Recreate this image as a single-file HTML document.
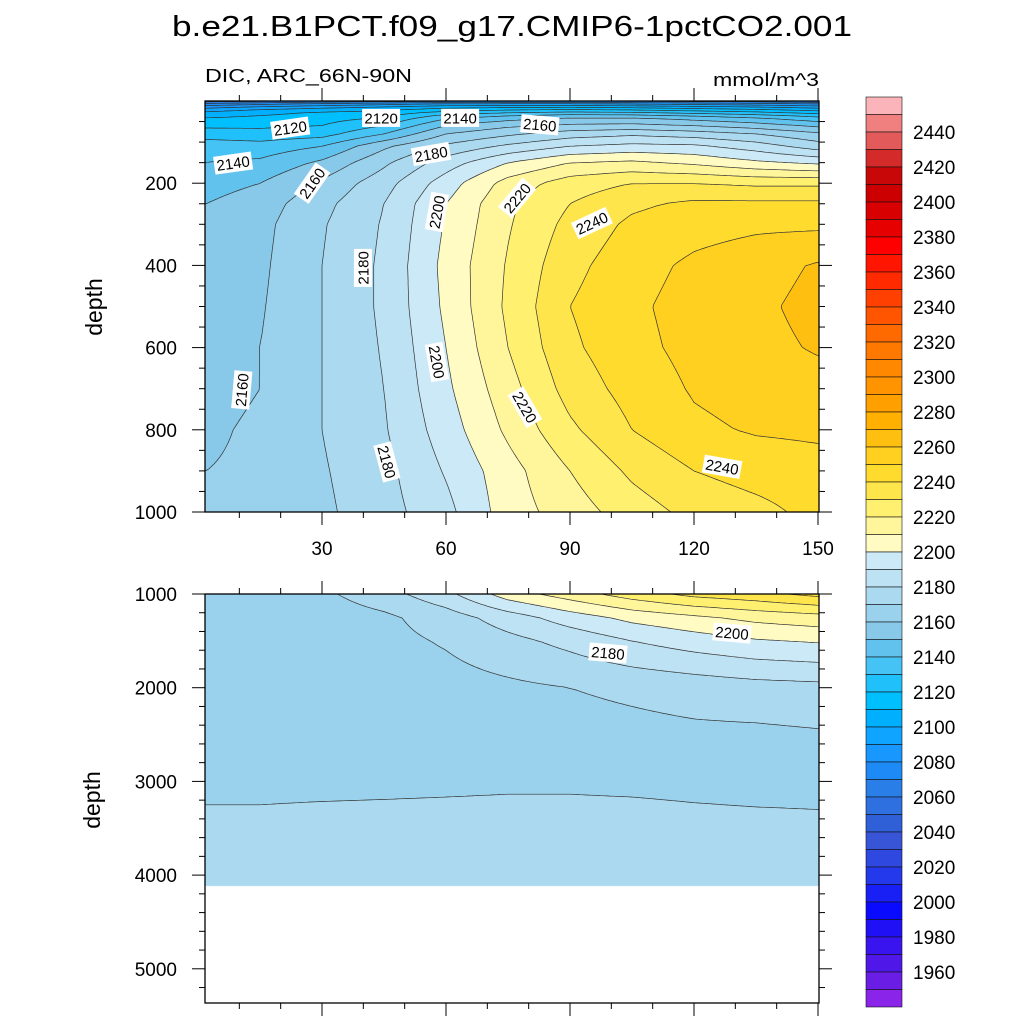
<!DOCTYPE html>
<html><head><meta charset="utf-8">
<style>
html,body{margin:0;padding:0;background:#fff;}
#wrap{position:relative;width:1024px;height:1024px;overflow:hidden;font-family:"Liberation Sans",sans-serif;}
canvas{position:absolute;}
svg{position:absolute;left:0;top:0;}
</style></head>
<body>
<div id="wrap">
<canvas id="c1" width="614" height="411" style="left:205px;top:101px"></canvas>
<canvas id="c2" width="614" height="409" style="left:205px;top:594px"></canvas>
<svg id="svg" width="1024" height="1024">
<text x="512" y="36" text-anchor="middle" font-size="29" textLength="680" lengthAdjust="spacingAndGlyphs">b.e21.B1PCT.f09_g17.CMIP6-1pctCO2.001</text>
<text x="205" y="82" font-size="18" textLength="207" lengthAdjust="spacingAndGlyphs">DIC, ARC_66N-90N</text>
<text x="819" y="86" font-size="18" text-anchor="end" textLength="106" lengthAdjust="spacingAndGlyphs">mmol/m^3</text>
<text transform="translate(102,307) rotate(-90)" font-size="23" text-anchor="middle">depth</text>
<text transform="translate(100,800) rotate(-90)" font-size="23" text-anchor="middle">depth</text>
<g id="g-lines"></g><g id="g-labels"></g><g id="g-axes"></g><g id="g-cbar"></g>
</svg>
</div>
<script>
// ---- data ----
const years = [2, 15, 30, 45, 60, 75, 90, 105, 120, 135, 150];
const depthsTop = [0, 10, 25, 40, 60, 80, 110, 150, 200, 250, 300, 400, 500, 600, 700, 800, 900, 1000];
const dicTop = [
[2055,2058,2062,2065,2068,2070,2070,2068,2066,2064,2060],
[2080,2085,2090,2095,2100,2100,2100,2098,2095,2092,2088],
[2100,2105,2110,2112,2120,2125,2128,2126,2122,2118,2112],
[2110,2112,2116,2120,2138,2145,2150,2150,2145,2140,2132],
[2118,2118,2120,2130,2150,2158,2162,2163,2160,2155,2148],
[2125,2124,2126,2140,2160,2168,2175,2178,2175,2170,2162],
[2136,2134,2140,2158,2172,2182,2190,2193,2192,2185,2175],
[2140,2142,2152,2168,2185,2200,2210,2212,2208,2202,2198],
[2146,2150,2162,2176,2195,2214,2225,2230,2230,2228,2228],
[2150,2155,2167,2180,2200,2218,2230,2238,2242,2242,2242],
[2152,2157,2169,2181,2201,2219,2233,2242,2246,2248,2248],
[2155,2158,2170,2182,2203,2221,2237,2246,2252,2256,2261],
[2156,2159,2170,2182,2202,2222,2240,2248,2254,2258,2263],
[2157,2160,2170,2181,2200,2220,2238,2247,2253,2257,2261],
[2158,2160,2170,2180,2198,2216,2234,2244,2251,2254,2256],
[2159,2161,2170,2179,2195,2212,2228,2240,2248,2251,2252],
[2160,2161,2169,2177,2191,2206,2220,2232,2240,2244,2246],
[2161,2161,2168,2176,2187,2205,2215,2225,2233,2237,2243]
];
const depthsBot = [1000, 1250, 1500, 2000, 2500, 3000, 3500, 4000, 4120];
const dicBot = [
[2161,2161,2168,2176,2187,2205,2215,2225,2233,2237,2243],
[2163,2163,2164,2168,2175,2185,2195,2203,2208,2213,2216],
[2164,2164,2165,2167,2171,2177,2183,2190,2195,2199,2201],
[2164,2164,2164,2165,2166,2168,2170,2172,2174,2176,2177],
[2165,2165,2165,2165,2165,2165,2166,2167,2168,2168,2169],
[2167,2167,2167,2167.5,2168,2168.5,2168.5,2168,2167.5,2167,2167],
[2173,2173,2174,2174,2174,2174,2174,2174,2173,2172.5,2172],
[2173,2173,2173,2173,2173,2173,2173,2173,2173,2172,2172],
[2173,2173,2173,2173,2173,2173,2173,2173,2173,2173,2173]
];
const levelMin = 1950, levelStep = 10, nLevels = 51;
const cbarLabels = [2440,2420,2400,2380,2360,2340,2320,2300,2280,2260,2240,2220,2200,2180,2160,2140,2120,2100,2080,2060,2040,2020,2000,1980,1960];
const boxColors = ["#8a24e8","#6a1de5","#5018e8","#3a14ee","#2010f5","#0a0aff","#1820f5","#2438ec","#2e48e0","#3855d8","#3060d8","#2e70e0","#2a7ee8","#1e8af5","#1898ff","#0ea4ff","#00b0ff","#00bfff","#20c0fa","#45c3f5","#62c2ee","#88c9ea","#9ad1ec","#abd9ef","#bde2f3","#cce9f7","#fffbc2","#fff69c","#fff070","#ffe54c","#ffdb2d","#ffd020","#ffbf10","#ffb000","#ffa000","#ff9400","#ff8800","#ff7800","#ff6a00","#ff5500","#ff4000","#ff2a00","#ff1500","#ff0000","#e60000","#d80000","#cc0000","#c80808","#d42a2a","#e25a5a","#f08080","#fbb4b9"];
const contourLabels = [
 [2120,22.3,66,-8],[2120,44.3,41,0],[2140,63.4,41,0],[2160,82.7,58,5],[2140,8.5,151,-8],
 [2180,56.4,129,-10],[2160,27.6,200,-55],[2200,57.8,270,-80],[2220,77.2,236,-50],[2240,95.3,297,-25],
 [2180,39.9,406,-90],[2160,10.6,703,-85],[2200,57.8,635,80],[2220,79.1,745,60],[2180,45.7,878,75],[2240,126.8,890,10]
];
const contourLabelsBot = [[2180,99.2,1630,5],[2200,129.2,1416,5]];

// ---- scales ----
const X0=205, X1=819, TY0=101, TY1=512, BY0=594, BY1=1003;
const xS = yr => 198 + yr*4.1333;
const xInv = px => (px-198)/4.1333;
const yTop = d => TY0 + d*0.411;
const yTopInv = py => (py-TY0)/0.411;
const yBot = d => BY0 + (d-1000)*0.0937;
const yBotInv = py => 1000 + (py-BY0)/0.0937;
const NS="http://www.w3.org/2000/svg";

function findIdx(arr,v){
  if(v<=arr[0]) return [0,0];
  if(v>=arr[arr.length-1]) return [arr.length-2,1];
  for(let i=0;i<arr.length-1;i++) if(v<=arr[i+1]) return [i,(v-arr[i])/(arr[i+1]-arr[i])];
}
function sample(grid,depths,yr,d){
  const [i,ti]=findIdx(depths,d), [j,tj]=findIdx(years,yr);
  const a=grid[i][j],b=grid[i][j+1],c=grid[i+1][j],e=grid[i+1][j+1];
  return (a*(1-tj)+b*tj)*(1-ti)+(c*(1-tj)+e*tj)*ti;
}
function colorIdx(v){let k=Math.floor((v-levelMin)/levelStep)+1;return Math.max(0,Math.min(51,k));}
function hex(h){return [parseInt(h.substr(1,2),16),parseInt(h.substr(3,2),16),parseInt(h.substr(5,2),16)];}
const rgb = boxColors.map(hex);

function fill(id,grid,depths,yInv,py0,hFill){
  const cv=document.getElementById(id), ctx=cv.getContext('2d');
  const W=cv.width,H=cv.height, img=ctx.createImageData(W,H);
  for(let y=0;y<H;y++){
    const d=yInv(py0+y+0.5);
    const inside = d<=depths[depths.length-1];
    for(let x=0;x<W;x++){
      const o=(y*W+x)*4;
      if(!inside){img.data[o]=255;img.data[o+1]=255;img.data[o+2]=255;img.data[o+3]=255;continue;}
      const v=sample(grid,depths,xInv(X0+x+0.5),d);
      const c=rgb[colorIdx(v)];
      img.data[o]=c[0];img.data[o+1]=c[1];img.data[o+2]=c[2];img.data[o+3]=255;
    }
  }
  ctx.putImageData(img,0,0);
}
fill('c1',dicTop,depthsTop,yTopInv,TY0);
fill('c2',dicBot,depthsBot,yBotInv,BY0);

// contour lines via marching squares on a pixel lattice
function contours(grid,depths,yInv,yFwd,pyA,pyB,name){
  const g=document.getElementById('g-lines');
  const step=3, dMax=depths[depths.length-1];
  const pyEnd=Math.min(pyB,yFwd(dMax));
  const xs=[],ys=[];
  for(let x=X0;x<=X1;x+=step) xs.push(x); if(xs[xs.length-1]<X1) xs.push(X1);
  for(let y=pyA;y<=pyEnd;y+=step) ys.push(y); if(ys[ys.length-1]<pyEnd) ys.push(pyEnd);
  const V=ys.map(py=>xs.map(px=>sample(grid,depths,xInv(px),yInv(py))));
  for(let L=0;L<nLevels;L++){
    const lev=levelMin+L*levelStep;
    let dstr="";
    for(let i=0;i<ys.length-1;i++)for(let j=0;j<xs.length-1;j++){
      const p=[[xs[j],ys[i],V[i][j]],[xs[j+1],ys[i],V[i][j+1]],[xs[j+1],ys[i+1],V[i+1][j+1]],[xs[j],ys[i+1],V[i+1][j]]];
      const pts=[];
      for(let k=0;k<4;k++){const a=p[k],b=p[(k+1)%4];
        if((a[2]<lev)!==(b[2]<lev)){const t=(lev-a[2])/(b[2]-a[2]);pts.push([a[0]+(b[0]-a[0])*t,a[1]+(b[1]-a[1])*t]);}}
      for(let k=0;k+1<pts.length;k+=2) dstr+=`M${pts[k][0].toFixed(1)} ${pts[k][1].toFixed(1)}L${pts[k+1][0].toFixed(1)} ${pts[k+1][1].toFixed(1)}`;
    }
    if(dstr){
      const path=document.createElementNS(NS,'path');
      path.setAttribute('d',dstr);path.setAttribute('stroke','#333');path.setAttribute('stroke-width','0.7');path.setAttribute('fill','none');
      
      
      g.appendChild(path);
    }
  }
}
contours(dicTop,depthsTop,yTopInv,yTop,TY0,TY1,'upper');
contours(dicBot,depthsBot,yBotInv,yBot,BY0,BY1,'lower');

// contour labels
function addLabels(list,yf){
  const g=document.getElementById('g-labels');
  list.forEach(l=>{
    const x=xS(l[1]),y=yf(l[2]);
    const grp=document.createElementNS(NS,'g');
    grp.setAttribute('transform',`translate(${x.toFixed(1)},${y.toFixed(1)}) rotate(${l[3]})`);
    
    
    const r=document.createElementNS(NS,'rect');
    r.setAttribute('x',-19);r.setAttribute('y',-9);r.setAttribute('width',38);r.setAttribute('height',18);r.setAttribute('fill','#fff');
    const t=document.createElementNS(NS,'text');
    t.setAttribute('x',0);t.setAttribute('y',5.5);t.setAttribute('text-anchor','middle');t.setAttribute('font-size','15');
    t.textContent=l[0];
    grp.appendChild(r);grp.appendChild(t);g.appendChild(grp);
  });
}
addLabels(contourLabels,yTop);
addLabels(contourLabelsBot,yBot);

// axes
const ga=document.getElementById('g-axes');
function line(x1,y1,x2,y2,w,name){
  const l=document.createElementNS(NS,'line');
  l.setAttribute('x1',x1);l.setAttribute('y1',y1);l.setAttribute('x2',x2);l.setAttribute('y2',y2);
  l.setAttribute('stroke','#000');l.setAttribute('stroke-width',w);
  
  
  ga.appendChild(l);
}
function text(x,y,s,anchor,name){
  const t=document.createElementNS(NS,'text');
  t.setAttribute('x',x);t.setAttribute('y',y);t.setAttribute('text-anchor',anchor);t.setAttribute('font-size','19');
  t.textContent=s;
  
  
  ga.appendChild(t);
}
function frame(y0,y1,name){
  const r=document.createElementNS(NS,'rect');
  r.setAttribute('x',X0);r.setAttribute('y',y0);r.setAttribute('width',X1-X0);r.setAttribute('height',y1-y0);
  r.setAttribute('fill','none');r.setAttribute('stroke','#000');r.setAttribute('stroke-width','1.3');
  
  
  ga.appendChild(r);
}
frame(TY0,TY1,'upper-plot-frame');
frame(BY0,BY1,'lower-plot-frame');
const xTickLabels=[30,60,90,120,150];
for(let v=10;v<=150;v+=10){
  const x=xS(v),maj=v%30===0,len=maj?13:6;
  line(x,TY0,x,TY0-len,1,'upper-top-tick');
  line(x,TY1,x,TY1+len,1,'upper-bottom-tick');
  line(x,BY0,x,BY0-len,1,'lower-top-tick');
  line(x,BY1,x,BY1+len,1,'lower-bottom-tick');
}
xTickLabels.forEach(v=>text(xS(v),555,String(v),'middle','x-tick-label-'+v));
const yTickLabelsTop=[200,400,600,800,1000];
for(let d=50;d<=1000;d+=50){
  const y=yTop(d),maj=d%200===0,len=maj?13:6;
  line(X0,y,X0-len,y,1,'upper-left-tick');line(X1,y,X1+len,y,1,'upper-right-tick');
}
yTickLabelsTop.forEach(d=>text(177,yTop(d)+7,String(d),'end','upper-y-tick-label-'+d));
const yTickLabelsBot=[1000,2000,3000,4000,5000];
for(let d=1000;d<=5300;d+=200){
  const y=yBot(d),maj=d%1000===0,len=maj?13:6;
  line(X0,y,X0-len,y,1,'lower-left-tick');line(X1,y,X1+len,y,1,'lower-right-tick');
}
yTickLabelsBot.forEach(d=>text(177,yBot(d)+7,String(d),'end','lower-y-tick-label-'+d));

// colorbar
const gc=document.getElementById('g-cbar');
const CB_X=866,CB_W=36,CB_Y=97,BOX=17.5;
for(let k=0;k<52;k++){
  const r=document.createElementNS(NS,'rect');
  const idx=51-k;
  r.setAttribute('x',CB_X);r.setAttribute('y',(CB_Y+k*BOX).toFixed(2));r.setAttribute('width',CB_W);r.setAttribute('height',BOX.toFixed(2));
  r.setAttribute('fill',boxColors[idx]);r.setAttribute('stroke','#111');r.setAttribute('stroke-width','0.6');
  
  
  gc.appendChild(r);
}
cbarLabels.forEach(v=>{
  const k=(2460-v)/10;
  const t=document.createElementNS(NS,'text');
  t.setAttribute('x',913);t.setAttribute('y',(CB_Y+k*BOX+7).toFixed(1));t.setAttribute('font-size','19');
  t.textContent=v;
  
  
  gc.appendChild(t);
});
</script>
</body></html>
